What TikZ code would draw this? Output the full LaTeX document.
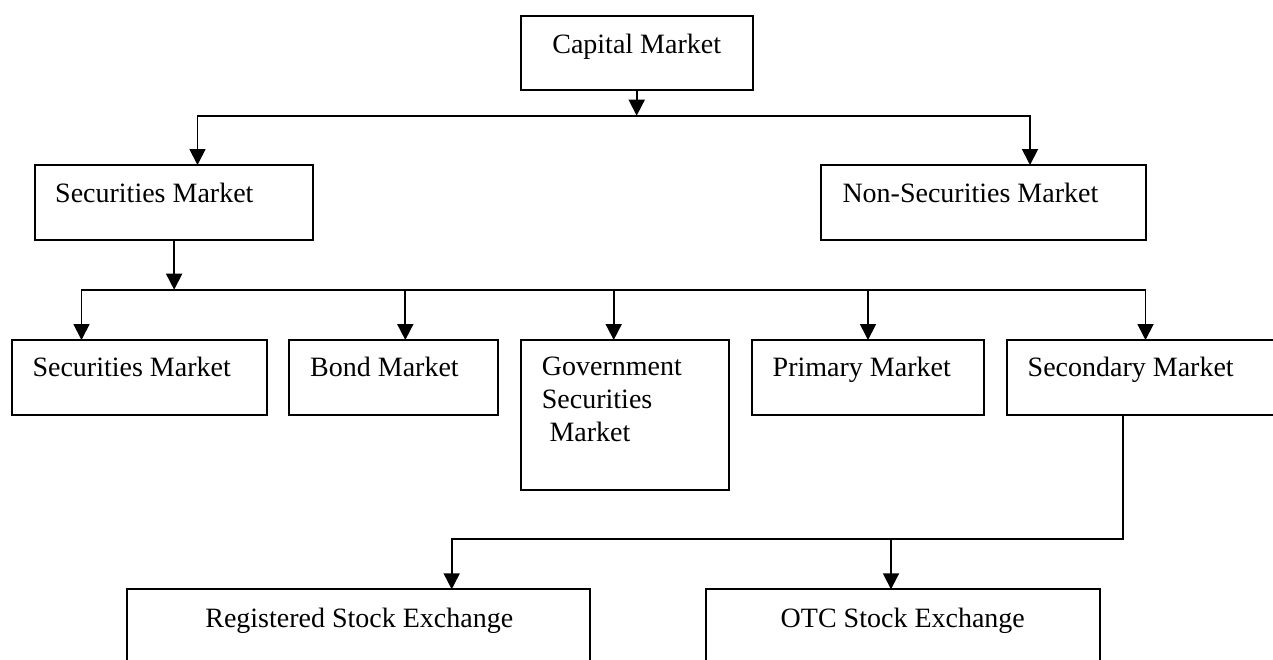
\documentclass[tikz,border=0pt]{standalone}
\usepackage{fontspec}
\setmainfont{Liberation Serif}
\usetikzlibrary{arrows.meta}
\begin{document}
\begin{tikzpicture}[x=1pt,y=-1pt,
  box/.style={draw, line width=2pt, inner sep=0pt, outer sep=0pt, anchor=north west},
  lbl/.style={inner sep=0pt, font=\fontsize{28}{33}\selectfont},
  conn/.style={line width=1.8pt, line join=miter},
  tipA/.tip={Triangle[width=16pt,length=16pt]},
  arr/.style={conn, -tipA},
  arrb/.style={conn, tipA-tipA}]
\useasboundingbox (0,0) rectangle (1273,659);
\clip (0,0) rectangle (1273,659);
\fill[white] (0,0) rectangle (1273,659);

% boxes
\node[box, minimum width=232pt,   minimum height=74.6pt] (cap)    at (520.7,15.7) {};
\node[box, minimum width=278.3pt, minimum height=75pt]   (sec)    at (35,165) {};
\node[box, minimum width=324.4pt, minimum height=75pt]   (nonsec) at (821.3,165) {};
\node[box, minimum width=255pt,   minimum height=75pt]   (sec2)   at (11.7,340) {};
\node[box, minimum width=209.3pt, minimum height=75pt]   (bond)   at (289,340) {};
\node[box, minimum width=208.6pt, minimum height=149.5pt] (gov)   at (520.7,340) {};
\node[box, minimum width=232.3pt, minimum height=75pt]   (prim)   at (751.7,340) {};
\node[box, minimum width=300pt,   minimum height=75pt]   (secd)   at (1006.5,340) {};
\node[box, minimum width=462.7pt, minimum height=110pt]  (reg)    at (127.3,589.3) {};
\node[box, minimum width=393.7pt, minimum height=110pt]  (otc)    at (706,589.3) {};

% texts
\node[lbl, anchor=base]      (capT)    at (636.7,53.3)  {Capital Market};
\node[lbl, anchor=base west] (secT)    at (55,202.7)    {Securities Market};
\node[lbl, anchor=base west] (nonsecT) at (842.3,202.7) {Non-Securities Market};
\node[lbl, anchor=base west] (sec2T)   at (32.3,376.7)  {Securities Market};
\node[lbl, anchor=base west] (bondT)   at (310,376.7)   {Bond Market};
\node[lbl, anchor=base west] (govA)    at (541.7,375)   {Government};
\node[lbl, anchor=base west] (govB)    at (541.7,408)   {Securities};
\node[lbl, anchor=base west] (govC)    at (549.3,441)   {Market};
\node[lbl, anchor=base west] (primT)   at (772.5,376.7) {Primary Market};
\node[lbl, anchor=base west] (secdT)   at (1027.5,376.7) {Secondary Market};
\node[lbl, anchor=base]      (regT)    at (359.3,627)   {Registered Stock Exchange};
\node[lbl, anchor=base]      (otcT)    at (902.8,627)   {OTC Stock Exchange};

% level 1 -> 2
\coordinate (h1m) at (636.7,115.7);
\coordinate (h1l) at (197.5,115.7);
\coordinate (h1r) at (1030,115.7);
\draw[arr] (cap.south) -- (cap.south |- h1m);
\draw[arrb] (h1l |- sec.north) -- (h1l) -- (h1r) -- (h1r |- nonsec.north);

% level 2 -> 3
\coordinate (d1) at (81.5,289.7);
\coordinate (d2) at (405.3,289.7);
\coordinate (d3) at (613.7,289.7);
\coordinate (d4) at (868,289.7);
\coordinate (d5) at (1145.5,289.7);
\draw[arr] (sec.south) -- (sec.south |- d1);
\draw[arrb] (d1 |- sec2.north) -- (d1) -- (d5) -- (d5 |- secd.north);
\draw[arr] (d2) -- (d2 |- bond.north);
\draw[arr] (d3) -- (d3 |- gov.north);
\draw[arr] (d4) -- (d4 |- prim.north);

% secondary -> exchanges
\coordinate (v3) at (1123,539.3);
\coordinate (h3l) at (451.7,539.3);
\coordinate (h3m) at (891,539.3);
\draw[arr] (v3 |- secd.south) -- (v3) -- (h3l) -- (h3l |- reg.north);
\draw[arr] (h3m) -- (h3m |- otc.north);
\end{tikzpicture}
\end{document}
